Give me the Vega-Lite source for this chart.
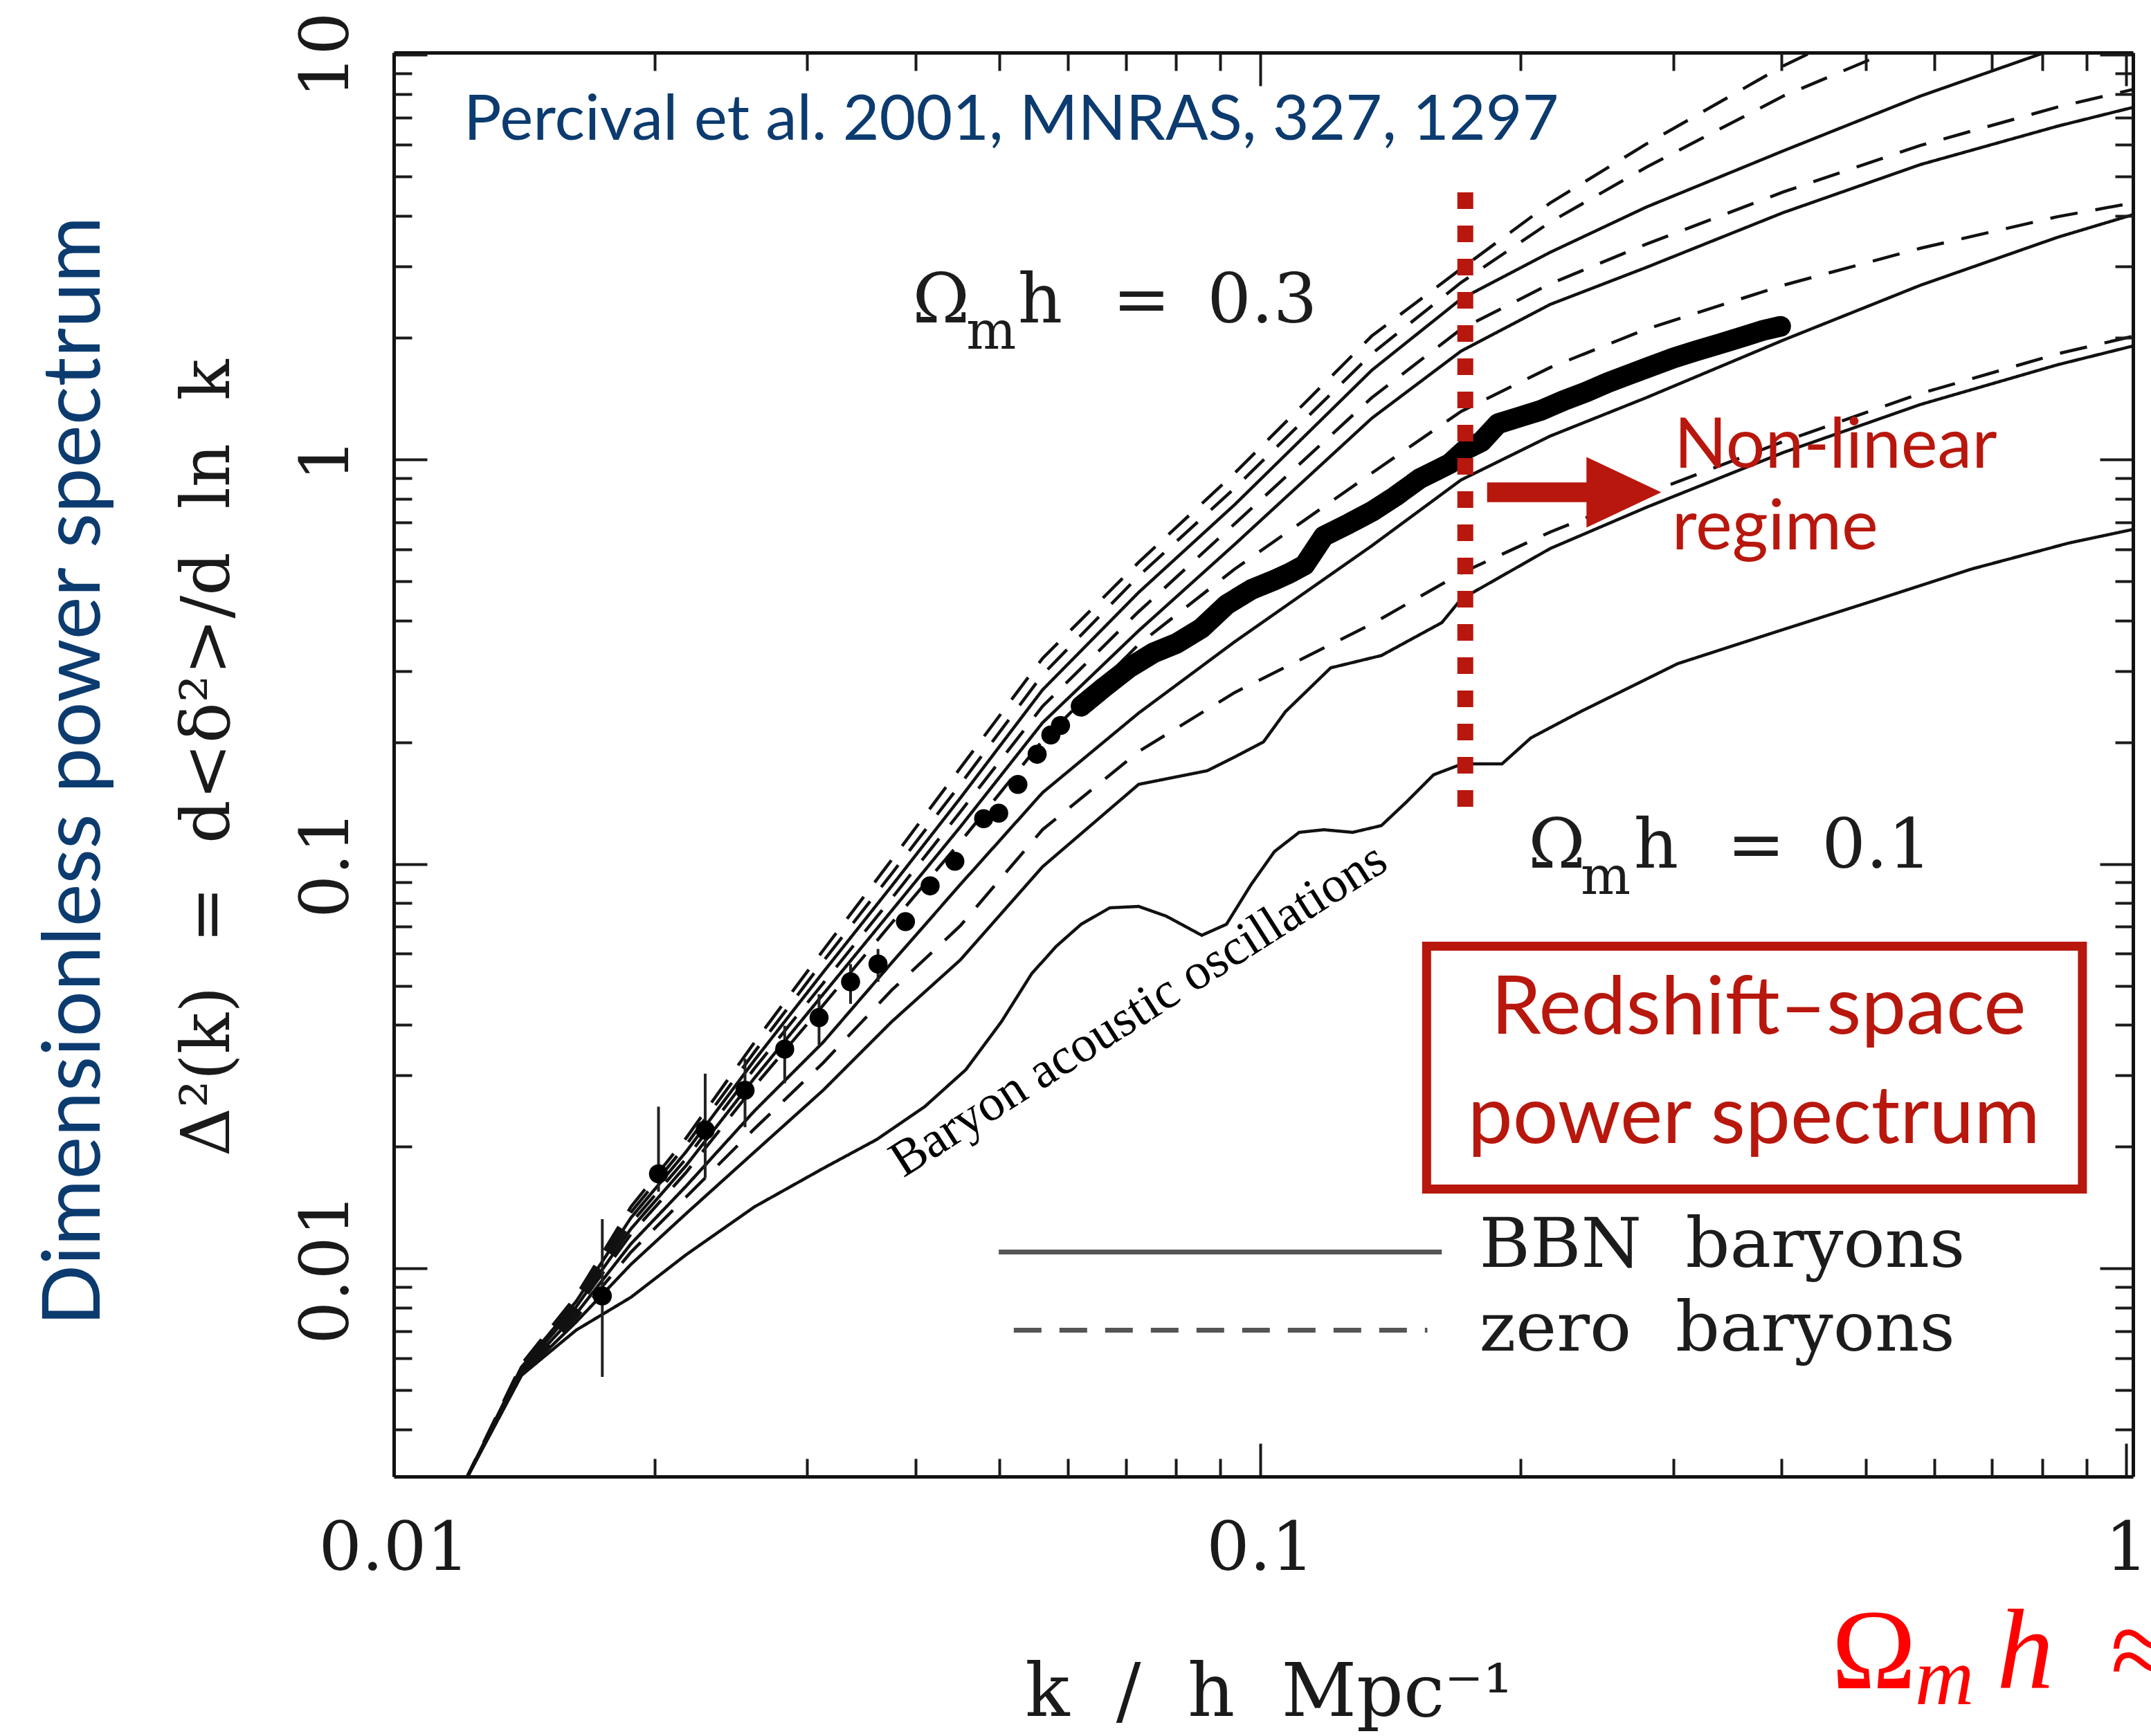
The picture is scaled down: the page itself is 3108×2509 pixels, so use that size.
{
  "$schema": "https://vega.github.io/schema/vega-lite/v6.json",
  "width": 2513,
  "height": 2058,
  "autosize": {"type": "none"},
  "padding": {"left": 569, "top": 76, "right": 26, "bottom": 375},
  "background": "white",
  "config": {"view": {"stroke": null}},
  "datasets": {
    "curves": [
      {"c":"F","s":"zero","k":0.012043,"d":0.002936},{"c":"F","s":"zero","k":0.014036,"d":0.00579},{"c":"F","s":"zero","k":0.016237,"d":0.008553},{"c":"F","s":"zero","k":0.018786,"d":0.01421},{"c":"F","s":"zero","k":0.021743,"d":0.02099},{"c":"F","s":"zero","k":0.026092,"d":0.03625},{"c":"F","s":"zero","k":0.031309,"d":0.06116},{"c":"F","s":"zero","k":0.037571,"d":0.1024},{"c":"F","s":"zero","k":0.045082,"d":0.1727},{"c":"F","s":"zero","k":0.056105,"d":0.3224},{"c":"F","s":"zero","k":0.072421,"d":0.5568},{"c":"F","s":"zero","k":0.093474,"d":0.925},{"c":"F","s":"zero","k":0.13459,"d":2.019},{"c":"F","s":"zero","k":0.17062,"d":2.959},{"c":"F","s":"zero","k":0.21624,"d":4.304},{"c":"F","s":"zero","k":0.27916,"d":6.021},{"c":"F","s":"zero","k":0.40185,"d":9.395},{"c":"F","s":"zero","k":0.5787,"d":13.66},{"c":"F","s":"zero","k":0.8333,"d":18.67},{"c":"F","s":"zero","k":1.0371,"d":21.83},
      {"c":"E2","s":"zero","k":0.012043,"d":0.002936},{"c":"E2","s":"zero","k":0.014036,"d":0.005745},{"c":"E2","s":"zero","k":0.016237,"d":0.008421},{"c":"E2","s":"zero","k":0.018786,"d":0.01377},{"c":"E2","s":"zero","k":0.021743,"d":0.02019},{"c":"E2","s":"zero","k":0.026092,"d":0.03432},{"c":"E2","s":"zero","k":0.031309,"d":0.05745},{"c":"E2","s":"zero","k":0.037571,"d":0.09468},{"c":"E2","s":"zero","k":0.045082,"d":0.1573},{"c":"E2","s":"zero","k":0.056105,"d":0.2937},{"c":"E2","s":"zero","k":0.072421,"d":0.515},{"c":"E2","s":"zero","k":0.093474,"d":0.8487},{"c":"E2","s":"zero","k":0.13459,"d":1.824},{"c":"E2","s":"zero","k":0.17062,"d":2.737},{"c":"E2","s":"zero","k":0.21624,"d":3.859},{"c":"E2","s":"zero","k":0.27916,"d":5.274},{"c":"E2","s":"zero","k":0.40185,"d":7.911},{"c":"E2","s":"zero","k":0.5787,"d":10.98},{"c":"E2","s":"zero","k":0.8333,"d":14.55},{"c":"E2","s":"zero","k":1.0371,"d":16.61},
      {"c":"E","s":"BBN","k":0.012043,"d":0.002936},{"c":"E","s":"BBN","k":0.014036,"d":0.0057},{"c":"E","s":"BBN","k":0.016237,"d":0.00829},{"c":"E","s":"BBN","k":0.018786,"d":0.01335},{"c":"E","s":"BBN","k":0.021743,"d":0.01942},{"c":"E","s":"BBN","k":0.026092,"d":0.03275},{"c":"E","s":"BBN","k":0.031309,"d":0.05398},{"c":"E","s":"BBN","k":0.037571,"d":0.08826},{"c":"E","s":"BBN","k":0.045082,"d":0.1455},{"c":"E","s":"BBN","k":0.056105,"d":0.2695},{"c":"E","s":"BBN","k":0.072421,"d":0.469},{"c":"E","s":"BBN","k":0.093474,"d":0.7728},{"c":"E","s":"BBN","k":0.13459,"d":1.661},{"c":"E","s":"BBN","k":0.17062,"d":2.493},{"c":"E","s":"BBN","k":0.21624,"d":3.25},{"c":"E","s":"BBN","k":0.27916,"d":4.204},{"c":"E","s":"BBN","k":0.40185,"d":5.79},{"c":"E","s":"BBN","k":0.5787,"d":7.911},{"c":"E","s":"BBN","k":0.8333,"d":10.4},{"c":"E","s":"BBN","k":1.0371,"d":12.44},
      {"c":"D2","s":"zero","k":0.012043,"d":0.002936},{"c":"D2","s":"zero","k":0.014036,"d":0.005656},{"c":"D2","s":"zero","k":0.016237,"d":0.008162},{"c":"D2","s":"zero","k":0.018786,"d":0.01294},{"c":"D2","s":"zero","k":0.021743,"d":0.01867},{"c":"D2","s":"zero","k":0.026092,"d":0.03126},{"c":"D2","s":"zero","k":0.031309,"d":0.05071},{"c":"D2","s":"zero","k":0.037571,"d":0.08226},{"c":"D2","s":"zero","k":0.045082,"d":0.1345},{"c":"D2","s":"zero","k":0.056105,"d":0.2454},{"c":"D2","s":"zero","k":0.072421,"d":0.4204},{"c":"D2","s":"zero","k":0.093474,"d":0.6929},{"c":"D2","s":"zero","k":0.13459,"d":1.421},{"c":"D2","s":"zero","k":0.17062,"d":2.099},{"c":"D2","s":"zero","k":0.21624,"d":2.716},{"c":"D2","s":"zero","k":0.27916,"d":3.405},{"c":"D2","s":"zero","k":0.40185,"d":4.582},{"c":"D2","s":"zero","k":0.5787,"d":5.974},{"c":"D2","s":"zero","k":0.8333,"d":7.432},{"c":"D2","s":"zero","k":1.0371,"d":8.29},
      {"c":"D","s":"BBN","k":0.012043,"d":0.002936},{"c":"D","s":"BBN","k":0.014036,"d":0.005612},{"c":"D","s":"BBN","k":0.016237,"d":0.008036},{"c":"D","s":"BBN","k":0.018786,"d":0.01254},{"c":"D","s":"BBN","k":0.021743,"d":0.01795},{"c":"D","s":"BBN","k":0.026092,"d":0.0296},{"c":"D","s":"BBN","k":0.031309,"d":0.04764},{"c":"D","s":"BBN","k":0.037571,"d":0.07668},{"c":"D","s":"BBN","k":0.045082,"d":0.1235},{"c":"D","s":"BBN","k":0.056105,"d":0.2235},{"c":"D","s":"BBN","k":0.072421,"d":0.3771},{"c":"D","s":"BBN","k":0.093474,"d":0.6164},{"c":"D","s":"BBN","k":0.13459,"d":1.264},{"c":"D","s":"BBN","k":0.17062,"d":1.852},{"c":"D","s":"BBN","k":0.21624,"d":2.416},{"c":"D","s":"BBN","k":0.27916,"d":2.982},{"c":"D","s":"BBN","k":0.40185,"d":4.075},{"c":"D","s":"BBN","k":0.5787,"d":5.356},{"c":"D","s":"BBN","k":0.8333,"d":6.665},{"c":"D","s":"BBN","k":1.0371,"d":7.49},
      {"c":"C2","s":"zero","k":0.012043,"d":0.002936},{"c":"C2","s":"zero","k":0.014036,"d":0.005568},{"c":"C2","s":"zero","k":0.016237,"d":0.007911},{"c":"C2","s":"zero","k":0.018786,"d":0.01216},{"c":"C2","s":"zero","k":0.021743,"d":0.01727},{"c":"C2","s":"zero","k":0.026092,"d":0.02824},{"c":"C2","s":"zero","k":0.031309,"d":0.04476},{"c":"C2","s":"zero","k":0.037571,"d":0.07147},{"c":"C2","s":"zero","k":0.045082,"d":0.1133},{"c":"C2","s":"zero","k":0.056105,"d":0.2019},{"c":"C2","s":"zero","k":0.072421,"d":0.3487},{"c":"C2","s":"zero","k":0.093474,"d":0.5356},{"c":"C2","s":"zero","k":0.13459,"d":0.925},{"c":"C2","s":"zero","k":0.17062,"d":1.314},{"c":"C2","s":"zero","k":0.21624,"d":1.687},{"c":"C2","s":"zero","k":0.27916,"d":2.099},{"c":"C2","s":"zero","k":0.40185,"d":2.695},{"c":"C2","s":"zero","k":0.5787,"d":3.327},{"c":"C2","s":"zero","k":0.8333,"d":3.981},{"c":"C2","s":"zero","k":1.0371,"d":4.338},
      {"c":"C","s":"BBN","k":0.012043,"d":0.002936},{"c":"C","s":"BBN","k":0.014036,"d":0.005525},{"c":"C","s":"BBN","k":0.016237,"d":0.007728},{"c":"C","s":"BBN","k":0.018786,"d":0.01151},{"c":"C","s":"BBN","k":0.021743,"d":0.01597},{"c":"C","s":"BBN","k":0.026092,"d":0.02454},{"c":"C","s":"BBN","k":0.031309,"d":0.03625},{"c":"C","s":"BBN","k":0.037571,"d":0.057},{"c":"C","s":"BBN","k":0.045082,"d":0.08896},{"c":"C","s":"BBN","k":0.056105,"d":0.1501},{"c":"C","s":"BBN","k":0.072421,"d":0.236},{"c":"C","s":"BBN","k":0.093474,"d":0.3541},{"c":"C","s":"BBN","k":0.13459,"d":0.6116},{"c":"C","s":"BBN","k":0.17062,"d":0.8896},{"c":"C","s":"BBN","k":0.21624,"d":1.142},{"c":"C","s":"BBN","k":0.27916,"d":1.421},{"c":"C","s":"BBN","k":0.40185,"d":1.972},{"c":"C","s":"BBN","k":0.5787,"d":2.695},{"c":"C","s":"BBN","k":0.8333,"d":3.541},{"c":"C","s":"BBN","k":1.0371,"d":4.075},
      {"c":"B2","s":"zero","k":0.012043,"d":0.002936},{"c":"B2","s":"zero","k":0.014036,"d":0.005482},{"c":"B2","s":"zero","k":0.016237,"d":0.007549},{"c":"B2","s":"zero","k":0.018786,"d":0.01098},{"c":"B2","s":"zero","k":0.021743,"d":0.01501},{"c":"B2","s":"zero","k":0.026092,"d":0.02217},{"c":"B2","s":"zero","k":0.031309,"d":0.03224},{"c":"B2","s":"zero","k":0.037571,"d":0.04877},{"c":"B2","s":"zero","k":0.045082,"d":0.07037},{"c":"B2","s":"zero","k":0.056105,"d":0.1216},{"c":"B2","s":"zero","k":0.072421,"d":0.1896},{"c":"B2","s":"zero","k":0.093474,"d":0.2653},{"c":"B2","s":"zero","k":0.13459,"d":0.3919},{"c":"B2","s":"zero","k":0.17062,"d":0.5232},{"c":"B2","s":"zero","k":0.21624,"d":0.6613},{"c":"B2","s":"zero","k":0.27916,"d":0.8227},{"c":"B2","s":"zero","k":0.40185,"d":1.107},{"c":"B2","s":"zero","k":0.5787,"d":1.455},{"c":"B2","s":"zero","k":0.8333,"d":1.824},{"c":"B2","s":"zero","k":1.0371,"d":2.034},
      {"c":"B","s":"BBN","k":0.012043,"d":0.002936},{"c":"B","s":"BBN","k":0.014036,"d":0.005439},{"c":"B","s":"BBN","k":0.016237,"d":0.007374},{"c":"B","s":"BBN","k":0.018786,"d":0.01024},{"c":"B","s":"BBN","k":0.021743,"d":0.01366},{"c":"B","s":"BBN","k":0.026092,"d":0.01942},{"c":"B","s":"BBN","k":0.031309,"d":0.02758},{"c":"B","s":"BBN","k":0.037571,"d":0.04075},{"c":"B","s":"BBN","k":0.045082,"d":0.0579},{"c":"B","s":"BBN","k":0.056105,"d":0.09845},{"c":"B","s":"BBN","k":0.072421,"d":0.1573},{"c":"B","s":"BBN","k":0.08691,"d":0.17},{"c":"B","s":"BBN","k":0.093474,"d":0.1838},{"c":"B","s":"BBN","k":0.10092,"d":0.2003},{"c":"B","s":"BBN","k":0.10698,"d":0.2379},{"c":"B","s":"BBN","k":0.12065,"d":0.3053},{"c":"B","s":"BBN","k":0.13806,"d":0.3275},{"c":"B","s":"BBN","k":0.16212,"d":0.3949},{"c":"B","s":"BBN","k":0.17062,"d":0.4511},{"c":"B","s":"BBN","k":0.21624,"d":0.6021},{"c":"B","s":"BBN","k":0.27916,"d":0.761},{"c":"B","s":"BBN","k":0.40185,"d":1.04},{"c":"B","s":"BBN","k":0.5787,"d":1.367},{"c":"B","s":"BBN","k":0.8333,"d":1.714},{"c":"B","s":"BBN","k":1.0371,"d":1.926},
      {"c":"A","s":"BBN","k":0.012043,"d":0.002936},{"c":"A","s":"BBN","k":0.014036,"d":0.00544},{"c":"A","s":"BBN","k":0.016237,"d":0.00704},{"c":"A","s":"BBN","k":0.018786,"d":0.00849},{"c":"A","s":"BBN","k":0.021743,"d":0.01081},{"c":"A","s":"BBN","k":0.026092,"d":0.01421},{"c":"A","s":"BBN","k":0.031309,"d":0.01768},{"c":"A","s":"BBN","k":0.03609,"d":0.02083},{"c":"A","s":"BBN","k":0.04101,"d":0.02512},{"c":"A","s":"BBN","k":0.04575,"d":0.03101},{"c":"A","s":"BBN","k":0.05029,"d":0.04075},{"c":"A","s":"BBN","k":0.0545,"d":0.05356},{"c":"A","s":"BBN","k":0.05819,"d":0.06261},{"c":"A","s":"BBN","k":0.06215,"d":0.07093},{"c":"A","s":"BBN","k":0.06708,"d":0.07791},{"c":"A","s":"BBN","k":0.072421,"d":0.07852},{"c":"A","s":"BBN","k":0.07791,"d":0.07432},{"c":"A","s":"BBN","k":0.08565,"d":0.06662},{"c":"A","s":"BBN","k":0.09146,"d":0.07093},{"c":"A","s":"BBN","k":0.09766,"d":0.08897},{"c":"A","s":"BBN","k":0.1039,"d":0.1073},{"c":"A","s":"BBN","k":0.11095,"d":0.1197},{"c":"A","s":"BBN","k":0.11847,"d":0.1215},{"c":"A","s":"BBN","k":0.12792,"d":0.1197},{"c":"A","s":"BBN","k":0.13806,"d":0.1244},{"c":"A","s":"BBN","k":0.14748,"d":0.1421},{"c":"A","s":"BBN","k":0.15861,"d":0.1661},{"c":"A","s":"BBN","k":0.17123,"d":0.1768},{"c":"A","s":"BBN","k":0.19029,"d":0.1768},{"c":"A","s":"BBN","k":0.20549,"d":0.205},{"c":"A","s":"BBN","k":0.23431,"d":0.2378},{"c":"A","s":"BBN","k":0.30342,"d":0.3126},{"c":"A","s":"BBN","k":0.39313,"d":0.3741},{"c":"A","s":"BBN","k":0.51126,"d":0.4476},{"c":"A","s":"BBN","k":0.66245,"d":0.5356},{"c":"A","s":"BBN","k":0.85826,"d":0.6212},{"c":"A","s":"BBN","k":1.0371,"d":0.677}
    ],
    "pts": [
      {"k":0.017406,"d":0.008553,"lo":0.005397,"hi":0.013244},
      {"k":0.020211,"d":0.017137,"lo":0.015479,"hi":0.025119},
      {"k":0.022881,"d":0.021993,"lo":0.016743,"hi":0.030302},
      {"k":0.025437,"d":0.027584,"lo":0.022347,"hi":0.033009},
      {"k":0.028266,"d":0.03486,"lo":0.028692,"hi":0.039811},
      {"k":0.030968,"d":0.041717,"lo":0.035687,"hi":0.047641},
      {"k":0.033675,"d":0.051106,"lo":0.045106,"hi":0.05656},
      {"k":0.036223,"d":0.05656,"lo":0.051106,"hi":0.06164},
      {"k":0.038963,"d":0.072037},{"k":0.041604,"d":0.08826},{"k":0.044431,"d":0.10157},{"k":0.047963,"d":0.12938},{"k":0.049923,"d":0.13348},{"k":0.052535,"d":0.15727},{"k":0.055295,"d":0.18669},{"k":0.057347,"d":0.20829},{"k":0.058836,"d":0.21993},{"k":0.06215,"d":0.2454},{"k":0.066125,"d":0.27373},{"k":0.070577,"d":0.3053},{"k":0.075375,"d":0.33266},{"k":0.080204,"d":0.35139},{"k":0.08565,"d":0.3829},{"k":0.09146,"d":0.43722},{"k":0.09766,"d":0.47641},{"k":0.1039,"d":0.50305},{"k":0.10816,"d":0.5232},{"k":0.11258,"d":0.54823},{"k":0.11847,"d":0.64602},{"k":0.12652,"d":0.6929},{"k":0.13459,"d":0.74315},{"k":0.14322,"d":0.80997},{"k":0.15294,"d":0.89664},{"k":0.15977,"d":0.93948},{"k":0.16571,"d":0.97685},{"k":0.17244,"d":1.0562},{"k":0.18015,"d":1.1067},{"k":0.18822,"d":1.2251},{"k":0.19953,"d":1.2739},{"k":0.2115,"d":1.3244},{"k":0.22425,"d":1.3988},{"k":0.2377,"d":1.4662},{"k":0.25199,"d":1.5479},{"k":0.26712,"d":1.6226},{"k":0.28316,"d":1.7004},{"k":0.30013,"d":1.7815},{"k":0.31815,"d":1.8523},{"k":0.33848,"d":1.9265},{"k":0.35888,"d":2.003},{"k":0.38041,"d":2.0829},{"k":0.39897,"d":2.1322}
    ],
    "leg": [{"k":0.04993,"k2":0.16212,"d":0.010982,"s":"BBN"},{"k":0.051965,"k2":0.15603,"d":0.00704,"s":"zero"}],
    "blk": [
      {"k":0.03969,"d":2.183,"t":"Ω"},{"k":0.05254,"d":2.183,"t":"h"},{"k":0.06757,"d":2.183,"t":"="},{"k":0.0869,"d":2.183,"t":"0.3"},
      {"k":0.20395,"d":0.0979,"t":"Ω"},{"k":0.27009,"d":0.0979,"t":"h"},{"k":0.34615,"d":0.0979,"t":"="},{"k":0.44515,"d":0.0979,"t":"0.1"},
      {"k":0.1791,"d":0.010078,"t":"BBN\u00a0\u00a0baryons"},{"k":0.1791,"d":0.006259,"t":"zero\u00a0\u00a0baryons"}
    ],
    "sub": [{"k":0.0458,"d":1.877,"t":"m"},{"k":0.2345,"d":0.0842,"t":"m"}],
    "bao": [{"k":0.07401,"d":0.040432,"t":"Baryon acoustic oscillations"}],
    "cite": [{"k":0.01204,"d":6.164,"t":"Percival et al. 2001, MNRAS, 327, 1297"}],
    "nl": [{"k":0.30058,"d":0.95425,"t":"Non-linear"},{"k":0.29883,"d":0.59977,"t":"regime"}],
    "box": [{"k":0.1557,"k2":0.8899,"d":0.06259,"d2":0.01572}],
    "boxtxt": [{"k":0.3763,"d":0.038,"t":"Redshift–space"},{"k":0.3716,"d":0.02043,"t":"power spectrum"}],
    "dot": [{"k":0.17256,"d":4.571,"d2":0.1264}],
    "arrow": [{"k":0.23049,"d":0.8292}],
    "mathO": [{"k":0.4566,"d":0.0009157,"t":"Ω"},{"k":0.95857,"d":0.0009157,"t":"≈"}],
    "mathI": [{"k":0.70857,"d":0.0009157,"t":"h"}],
    "mathS": [{"k":0.57034,"d":0.000836,"t":"m"}]
  },
  "layer": [
    {
      "data": {"name": "curves"},
      "mark": {"type": "line", "clip": true, "color": "#111111", "strokeWidth": 4.5},
      "encoding": {
        "x": {"field": "k", "type": "quantitative", "scale": {"type": "log", "domain": [0.01, 1.018], "nice": false},
          "axis": {"orient": "bottom", "values": [0.01, 0.1, 1], "format": "~g", "tickSize": -48, "tickWidth": 4, "tickColor": "#1a1a1a", "domainColor": "#111111", "domainWidth": 5, "labelFont": "DejaVu Serif", "labelFontSize": 98, "labelColor": "#1a1a1a", "labelPadding": 182, "labelBaseline": "alphabetic", "labelFlush": false, "labelOverlap": false, "labelLimit": 0, "grid": false, "title": "k\u00a0\u00a0/\u00a0\u00a0h\u00a0\u00a0Mpc⁻¹", "titleFont": "DejaVu Serif", "titleFontSize": 106, "titleFontWeight": "normal", "titleColor": "#1a1a1a", "titleX": 1264, "titleY": 345, "titleAlign": "center", "titleBaseline": "alphabetic", "titleAngle": 0, "titleLimit": 0, "zindex": 1}},
        "y": {"field": "d", "type": "quantitative", "scale": {"type": "log", "domain": [0.00306, 10.13], "nice": false},
          "axis": {"orient": "left", "values": [0.01, 0.1, 1, 10], "format": "~g", "tickSize": -48, "tickWidth": 4, "tickColor": "#1a1a1a", "domainColor": "#111111", "domainWidth": 5, "labelFont": "DejaVu Serif", "labelFontSize": 98, "labelColor": "#1a1a1a", "labelAngle": -90, "labelAlign": "center", "labelBaseline": "alphabetic", "labelPadding": 115, "labelFlush": false, "labelOverlap": false, "labelLimit": 0, "grid": false, "title": "Δ²(k)\u00a0\u00a0=\u00a0\u00a0d<δ²>/d\u00a0\u00a0ln\u00a0\u00a0k", "titleFont": "DejaVu Serif", "titleFontSize": 98, "titleFontWeight": "normal", "titleColor": "#1a1a1a", "titleAngle": -90, "titleX": -239, "titleY": 1019, "titleAlign": "center", "titleBaseline": "alphabetic", "titleLimit": 0, "zindex": 1}},
        "detail": {"field": "c"},
        "strokeDash": {"field": "s", "type": "nominal", "scale": {"domain": ["BBN", "zero"], "range": [[1, 0], [40, 26]]}, "legend": null}
      }
    },
    {
      "data": {"name": "pts"},
      "transform": [{"filter": "isValid(datum.lo)"}],
      "mark": {"type": "rule", "color": "#222222", "strokeWidth": 4},
      "encoding": {
        "x": {"field": "k", "type": "quantitative", "scale": {"type": "log", "domain": [0.01, 1.018], "nice": false},
          "axis": {"orient": "bottom", "values": [0.02, 0.03, 0.04, 0.05, 0.06, 0.07, 0.08, 0.09, 0.2, 0.3, 0.4, 0.5, 0.6, 0.7, 0.8, 0.9], "labels": false, "domain": false, "tickSize": -26, "tickWidth": 4, "tickColor": "#1a1a1a", "grid": false, "title": null, "zindex": 1}},
        "y": {"field": "lo", "type": "quantitative", "scale": {"type": "log", "domain": [0.00306, 10.13], "nice": false},
          "axis": {"orient": "left", "values": [0.004, 0.005, 0.006, 0.007, 0.008, 0.009, 0.02, 0.03, 0.04, 0.05, 0.06, 0.07, 0.08, 0.09, 0.2, 0.3, 0.4, 0.5, 0.6, 0.7, 0.8, 0.9, 2, 3, 4, 5, 6, 7, 8, 9], "labels": false, "domain": false, "tickSize": -26, "tickWidth": 4, "tickColor": "#1a1a1a", "grid": false, "title": "Dimensionless power spectrum", "titleFont": "Lato", "titleFontSize": 117, "titleFontWeight": "normal", "titleColor": "#0c3b6f", "titleAngle": -90, "titleX": -426, "titleY": 1038, "titleAlign": "center", "titleBaseline": "alphabetic", "titleLimit": 0, "zindex": 1}},
        "y2": {"field": "hi"}
      }
    },
    {
      "data": {"name": "pts"},
      "mark": {"type": "circle", "color": "#000000", "opacity": 1, "size": 760},
      "encoding": {
        "x": {"field": "k", "type": "quantitative", "scale": {"type": "log", "domain": [0.01, 1.018], "nice": false},
          "axis": {"orient": "top", "values": [0.01, 0.1, 1], "labels": false, "tickSize": -48, "tickWidth": 4, "tickColor": "#1a1a1a", "domainColor": "#111111", "domainWidth": 5, "grid": false, "title": null, "zindex": 1}},
        "y": {"field": "d", "type": "quantitative", "scale": {"type": "log", "domain": [0.00306, 10.13], "nice": false},
          "axis": {"orient": "right", "values": [0.01, 0.1, 1, 10], "labels": false, "tickSize": -48, "tickWidth": 4, "tickColor": "#1a1a1a", "domainColor": "#111111", "domainWidth": 5, "grid": false, "title": null, "zindex": 1}}
      }
    },
    {
      "data": {"name": "pts"},
      "transform": [{"filter": "datum.k >= 0.06"}],
      "mark": {"type": "line", "color": "#000000", "strokeWidth": 30, "strokeJoin": "round", "strokeCap": "round"},
      "encoding": {
        "x": {"field": "k", "type": "quantitative", "scale": {"type": "log", "domain": [0.01, 1.018], "nice": false},
          "axis": {"orient": "top", "values": [0.02, 0.03, 0.04, 0.05, 0.06, 0.07, 0.08, 0.09, 0.2, 0.3, 0.4, 0.5, 0.6, 0.7, 0.8, 0.9], "labels": false, "domain": false, "tickSize": -26, "tickWidth": 4, "tickColor": "#1a1a1a", "grid": false, "title": null, "zindex": 1}},
        "y": {"field": "d", "type": "quantitative", "scale": {"type": "log", "domain": [0.00306, 10.13], "nice": false},
          "axis": {"orient": "right", "values": [0.004, 0.005, 0.006, 0.007, 0.008, 0.009, 0.02, 0.03, 0.04, 0.05, 0.06, 0.07, 0.08, 0.09, 0.2, 0.3, 0.4, 0.5, 0.6, 0.7, 0.8, 0.9, 2, 3, 4, 5, 6, 7, 8, 9], "labels": false, "domain": false, "tickSize": -26, "tickWidth": 4, "tickColor": "#1a1a1a", "grid": false, "title": null, "zindex": 1}}
      }
    },
    {
      "data": {"name": "leg"},
      "mark": {"type": "rule", "color": "#555555", "strokeWidth": 7},
      "encoding": {
        "x": {"field": "k", "type": "quantitative", "axis": null},
        "x2": {"field": "k2"},
        "y": {"field": "d", "type": "quantitative", "axis": null},
        "strokeDash": {"field": "s", "type": "nominal", "scale": {"domain": ["BBN", "zero"], "range": [[1, 0], [46, 44]]}, "legend": null}
      }
    },
    {
      "data": {"name": "blk"},
      "mark": {"type": "text", "font": "DejaVu Serif", "fontSize": 100, "color": "#1c1c1c", "align": "left", "baseline": "alphabetic", "limit": 0},
      "encoding": {
        "x": {"field": "k", "type": "quantitative", "axis": null},
        "y": {"field": "d", "type": "quantitative", "axis": null},
        "text": {"field": "t"}
      }
    },
    {
      "data": {"name": "sub"},
      "mark": {"type": "text", "font": "DejaVu Serif", "fontSize": 76, "color": "#1c1c1c", "align": "left", "baseline": "alphabetic"},
      "encoding": {
        "x": {"field": "k", "type": "quantitative", "axis": null},
        "y": {"field": "d", "type": "quantitative", "axis": null},
        "text": {"field": "t"}
      }
    },
    {
      "data": {"name": "bao"},
      "mark": {"type": "text", "font": "Liberation Serif", "fontSize": 74, "color": "#000000", "align": "center", "baseline": "alphabetic", "angle": -32.5},
      "encoding": {
        "x": {"field": "k", "type": "quantitative", "axis": null},
        "y": {"field": "d", "type": "quantitative", "axis": null},
        "text": {"field": "t"}
      }
    },
    {
      "data": {"name": "cite"},
      "mark": {"type": "text", "font": "Lato", "fontSize": 91, "color": "#0c3b6f", "align": "left", "baseline": "alphabetic"},
      "encoding": {
        "x": {"field": "k", "type": "quantitative", "axis": null},
        "y": {"field": "d", "type": "quantitative", "axis": null},
        "text": {"field": "t"}
      }
    },
    {
      "data": {"name": "dot"},
      "mark": {"type": "rule", "color": "#b8170d", "strokeWidth": 23, "strokeDash": [24, 24], "strokeCap": "butt"},
      "encoding": {
        "x": {"field": "k", "type": "quantitative", "axis": null},
        "y": {"field": "d", "type": "quantitative", "axis": null},
        "y2": {"field": "d2"}
      }
    },
    {
      "data": {"name": "arrow"},
      "mark": {"type": "point", "shape": "M-1,-0.114L0.141,-0.114L0.141,-0.405L1,0L0.141,0.405L0.141,0.114L-1,0.114Z", "size": 63353, "filled": true, "color": "#b8170d", "opacity": 1, "strokeWidth": 0},
      "encoding": {
        "x": {"field": "k", "type": "quantitative", "axis": null},
        "y": {"field": "d", "type": "quantitative", "axis": null}
      }
    },
    {
      "data": {"name": "nl"},
      "mark": {"type": "text", "font": "Lato", "fontSize": 100, "color": "#b8170d", "align": "left", "baseline": "alphabetic"},
      "encoding": {
        "x": {"field": "k", "type": "quantitative", "axis": null},
        "y": {"field": "d", "type": "quantitative", "axis": null},
        "text": {"field": "t"}
      }
    },
    {
      "data": {"name": "box"},
      "mark": {"type": "rect", "filled": false, "stroke": "#b8170d", "strokeWidth": 13},
      "encoding": {
        "x": {"field": "k", "type": "quantitative", "axis": null},
        "x2": {"field": "k2"},
        "y": {"field": "d", "type": "quantitative", "axis": null},
        "y2": {"field": "d2"}
      }
    },
    {
      "data": {"name": "boxtxt"},
      "mark": {"type": "text", "font": "Lato", "fontSize": 116, "color": "#b8170d", "align": "center", "baseline": "alphabetic"},
      "encoding": {
        "x": {"field": "k", "type": "quantitative", "axis": null},
        "y": {"field": "d", "type": "quantitative", "axis": null},
        "text": {"field": "t"}
      }
    },
    {
      "data": {"name": "mathO"},
      "mark": {"type": "text", "font": "Liberation Serif", "fontSize": 165, "color": "#ff0000", "align": "left", "baseline": "alphabetic"},
      "encoding": {
        "x": {"field": "k", "type": "quantitative", "axis": null},
        "y": {"field": "d", "type": "quantitative", "axis": null},
        "text": {"field": "t"}
      }
    },
    {
      "data": {"name": "mathI"},
      "mark": {"type": "text", "font": "Liberation Serif", "fontSize": 165, "fontStyle": "italic", "color": "#ff0000", "align": "left", "baseline": "alphabetic"},
      "encoding": {
        "x": {"field": "k", "type": "quantitative", "axis": null},
        "y": {"field": "d", "type": "quantitative", "axis": null},
        "text": {"field": "t"}
      }
    },
    {
      "data": {"name": "mathS"},
      "mark": {"type": "text", "font": "Liberation Serif", "fontSize": 118, "fontStyle": "italic", "color": "#ff0000", "align": "left", "baseline": "alphabetic"},
      "encoding": {
        "x": {"field": "k", "type": "quantitative", "axis": null},
        "y": {"field": "d", "type": "quantitative", "axis": null},
        "text": {"field": "t"}
      }
    }
  ],
  "resolve": {"axis": {"x": "independent", "y": "independent"}}
}
